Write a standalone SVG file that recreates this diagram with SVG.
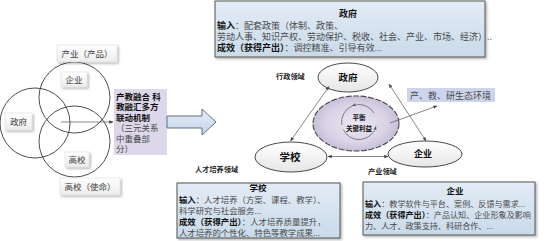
<svg xmlns="http://www.w3.org/2000/svg" width="553" height="241" viewBox="0 0 553 241">
<defs>
<style>
text{font-family:"Liberation Sans","Noto Sans CJK SC",sans-serif;}
.lbl{font-size:8.5px;fill:#404040;}
.t{fill:#4a4a4a;}
.b{font-weight:bold;fill:#111;}
.dom{font-size:7.2px;font-weight:bold;fill:#222;}
.venn{fill:none;stroke:#3a3a3a;stroke-width:0.9;}
.tag{fill:url(#gGray);stroke:#d8d8d8;stroke-width:0.5;filter:url(#sh);}
.info{fill:url(#gBlue);stroke:#555;stroke-width:1;filter:url(#sh);}
.ell{fill:url(#gEll);stroke:#333;stroke-width:0.9;}
.con{fill:none;stroke:#555;stroke-width:0.7;}
</style>
<linearGradient id="gGray" x1="0" y1="0" x2="0" y2="1"><stop offset="0" stop-color="#ffffff"/><stop offset="1" stop-color="#ececec"/></linearGradient>
<linearGradient id="gBlue" x1="0" y1="0" x2="0" y2="1"><stop offset="0" stop-color="#e3ecf6"/><stop offset="1" stop-color="#c9dae9"/></linearGradient>
<linearGradient id="gArrow" x1="0" y1="0" x2="0" y2="1"><stop offset="0" stop-color="#e6eef7"/><stop offset="1" stop-color="#c3d3e6"/></linearGradient>
<linearGradient id="gEll" x1="0" y1="0" x2="0" y2="1"><stop offset="0" stop-color="#ffffff"/><stop offset="1" stop-color="#e6e6e6"/></linearGradient>
<radialGradient id="gPur" cx="0.5" cy="0.5" r="0.5"><stop offset="0" stop-color="#ebe8f2"/><stop offset="0.7" stop-color="#d9d3e6"/><stop offset="1" stop-color="#c7bfd9"/></radialGradient>
<filter id="sh" x="-10%" y="-10%" width="130%" height="140%"><feDropShadow dx="1.5" dy="1.5" stdDeviation="1" flood-color="#000" flood-opacity="0.3"/></filter>
<marker id="ah" viewBox="0 0 10 10" refX="9" refY="5" markerWidth="6" markerHeight="6" orient="auto-start-reverse"><path d="M0,1 L10,5 L0,9 z" fill="#444"/></marker>
<marker id="ahs" viewBox="0 0 10 10" refX="9" refY="5" markerWidth="5" markerHeight="5" orient="auto"><path d="M0,1 L10,5 L0,9 z" fill="#555"/></marker>
</defs>
<rect width="553" height="241" fill="#ffffff"/>

<!-- Venn -->
<g id="venn">
<circle class="venn" cx="74.5" cy="97.5" r="35.5"/>
<circle class="venn" cx="35" cy="123" r="35"/>
<circle class="venn" cx="74.5" cy="141.5" r="35.5"/>
</g>
<g id="tag-industry"><rect class="tag" x="57" y="45" width="60" height="17"/><text class="lbl" x="87" y="56.5" text-anchor="middle">产业（产品）</text></g>
<g id="tag-enterprise"><rect class="tag" x="61" y="72" width="26" height="15"/><text class="lbl" x="74" y="82.5" text-anchor="middle">企业</text></g>
<g id="tag-gov"><rect class="tag" x="5" y="113" width="27" height="17"/><text class="lbl" x="18.5" y="124.5" text-anchor="middle">政府</text></g>
<g id="tag-univ"><rect class="tag" x="65" y="152" width="24" height="15"/><text class="lbl" x="77" y="162.5" text-anchor="middle">高校</text></g>
<g id="tag-mission"><rect class="tag" x="60" y="178" width="60" height="17"/><text class="lbl" x="90" y="189.5" text-anchor="middle">高校（使命）</text></g>

<g id="mechanism">
<rect x="114" y="89" width="53" height="66" fill="#dcd7e9"/>
<text style="font-size:8.5px" x="116">
<tspan class="b" x="116" y="99.5">产教融合 科</tspan>
<tspan class="b" x="116" y="110">教融汇多方</tspan>
<tspan class="b" x="116" y="120.5">联动机制</tspan>
<tspan class="t" x="116" y="131">（三元关系</tspan>
<tspan class="t" x="116" y="141.5">中重叠部</tspan>
<tspan class="t" x="116" y="152">分）</tspan>
</text>
</g>

<!-- Government info box -->
<g id="box-gov">
<rect class="info" x="215" y="1" width="270" height="56"/>
<text class="b" style="font-size:9px" x="348" y="16.5" text-anchor="middle">政府</text>
<text style="font-size:9px" x="217" y="28.5"><tspan class="b">输入</tspan><tspan class="t">：配套政策（体制、政策、</tspan></text>
<text class="t" style="font-size:9px" x="217" y="39.5">劳动人事、知识产权、劳动保护、税收、社会、产业、市场、经济）..</text>
<text style="font-size:9px" x="217" y="50.5"><tspan class="b">成效（获得产出）</tspan><tspan class="t">：调控精准、引导有效...</tspan></text>
</g>

<!-- Right diagram -->
<g id="center-balance">
<ellipse cx="356" cy="123.5" rx="43" ry="27.5" fill="url(#gPur)" stroke="#4a4a4a" stroke-width="1.1" stroke-dasharray="6 1.5"/>
<path class="con" d="M374.2,113.25 A17.5,17.5 0 0 0 352.4,105.8" marker-end="url(#ahs)"/>
<path class="con" d="M352.4,105.8 A17.5,17.5 0 0 0 341.8,125"/>
<path class="con" d="M343.1,129.4 A17.5,17.5 0 0 0 375.9,126.5" marker-end="url(#ahs)"/>
<text class="b" style="font-size:6.5px" x="359" y="119.5" text-anchor="middle">平衡</text>
<text class="b" style="font-size:6.5px" x="359" y="130.5" text-anchor="middle">关键利益</text>
</g>
<g id="node-gov"><ellipse class="ell" cx="348" cy="77.5" rx="30" ry="14.5"/><text class="b" style="font-size:9.5px" x="348" y="81" text-anchor="middle">政府</text></g>
<g id="node-school"><ellipse class="ell" cx="291" cy="157" rx="36" ry="15"/><text class="b" style="font-size:10.5px" x="290" y="160.5" text-anchor="middle">学校</text></g>
<g id="node-enterprise"><ellipse class="ell" cx="425" cy="154" rx="37" ry="13"/><text class="b" style="font-size:9px" x="423" y="157" text-anchor="middle">企业</text></g>

<g id="eco-box"><rect x="407" y="88" width="88" height="14" fill="#cdd5ec"/><text class="t" style="font-size:9px" x="410" y="98.5">产、教、研生态环境</text></g>

<text class="dom" x="276" y="79">行政领域</text>
<text class="dom" x="195" y="171.5">人才培养领域</text>
<text class="dom" x="368" y="174">产业领域</text>

<!-- Bottom info boxes -->
<g id="box-school">
<rect class="info" x="177" y="183" width="163" height="55"/>
<text class="b" style="font-size:8.5px" x="258" y="190.5" text-anchor="middle">学校</text>
<text style="font-size:8.4px" x="179" y="202.5"><tspan class="b">输入</tspan><tspan class="t">：人才培养（方案、课程、教学）、</tspan></text>
<text class="t" style="font-size:8.4px" x="179" y="213.5">科学研究与社会服务...</text>
<text style="font-size:8.4px" x="179" y="224.5"><tspan class="b">成效（获得产出）</tspan><tspan class="t">：人才培养质量提升，</tspan></text>
<text class="t" style="font-size:8.4px" x="179" y="235.5">人才培养的个性化、特色等教学成果...</text>
</g>
<g id="box-enterprise">
<rect class="info" x="363" y="182" width="172" height="53"/>
<text class="b" style="font-size:8.5px" x="455" y="194" text-anchor="middle">企业</text>
<text style="font-size:8.1px" x="365" y="206.5"><tspan class="b">输入</tspan><tspan class="t">：教学软件与平台、案例、反馈与需求...</tspan></text>
<text style="font-size:8.1px" x="365" y="217.5"><tspan class="b">成效（获得产出）</tspan><tspan class="t">：产品认知、企业形象及影响</tspan></text>
<text class="t" style="font-size:8.1px" x="365" y="228.5">力、人才、政策支持、科研合作、...</text>
</g>

<!-- Connectors -->
<g id="connectors">
<line class="con" x1="61" y1="122" x2="113" y2="122" stroke="#333" marker-end="url(#ah)"/>
<polygon points="167,116 202,116 202,109 216,122 202,135 202,128 167,128" fill="url(#gArrow)" stroke="#4f6280" stroke-width="0.9"/>
<line class="con" x1="329" y1="86.5" x2="290.5" y2="141" marker-start="url(#ah)" marker-end="url(#ah)"/>
<line class="con" x1="328" y1="156.5" x2="388" y2="156.5" marker-start="url(#ah)" marker-end="url(#ah)"/>
<line class="con" x1="389" y1="84" x2="426" y2="141" marker-start="url(#ah)" marker-end="url(#ah)"/>
<line class="con" x1="390" y1="123" x2="437" y2="106" marker-end="url(#ah)"/>
</g>
</svg>
